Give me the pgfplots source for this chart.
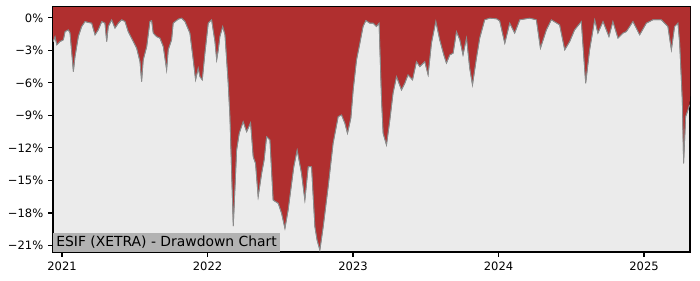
\documentclass[border=0pt]{standalone}
\usepackage{pgfplots}
\pgfplotsset{compat=1.18}
\usepgfplotslibrary{fillbetween}
\usepackage{pgfplotstable}
\usepackage{fontspec}
\setmainfont{DejaVu Sans}
\definecolor{ddred}{RGB}{176,47,47}
\definecolor{bgg}{RGB}{235,235,235}
\definecolor{boxg}{RGB}{178,178,178}
\pgfplotstableread{
x y
2020.940 -2.19
2020.952 -1.73
2020.964 -2.49
2020.986 -2.19
2021.009 -2.03
2021.021 -1.27
2021.043 -1.11
2021.055 -1.39
2021.067 -3.23
2021.078 -4.96
2021.089 -3.60
2021.112 -1.73
2021.135 -0.80
2021.158 -0.34
2021.181 -0.43
2021.204 -0.49
2021.227 -1.57
2021.249 -1.11
2021.273 -0.34
2021.295 -0.49
2021.307 -2.19
2021.318 -0.80
2021.341 -0.18
2021.364 -0.95
2021.387 -0.49
2021.410 -0.18
2021.433 -0.34
2021.455 -1.27
2021.490 -2.19
2021.513 -2.80
2021.536 -4.04
2021.547 -5.88
2021.558 -3.88
2021.582 -2.65
2021.604 -0.34
2021.616 -0.25
2021.627 -1.41
2021.650 -1.73
2021.673 -1.87
2021.696 -2.65
2021.719 -4.80
2021.730 -2.95
2021.753 -2.03
2021.764 -0.49
2021.799 -0.12
2021.822 -0.03
2021.845 -0.34
2021.879 -1.41
2021.902 -3.88
2021.918 -5.72
2021.936 -4.64
2021.948 -5.42
2021.964 -5.72
2021.982 -3.26
2022.005 -0.49
2022.028 -0.18
2022.051 -2.19
2022.063 -3.88
2022.074 -2.95
2022.085 -1.73
2022.104 -0.80
2022.120 -1.57
2022.142 -6.00
2022.154 -9.11
2022.177 -19.21
2022.200 -12.19
2022.218 -10.65
2022.245 -9.58
2022.269 -10.50
2022.296 -9.67
2022.314 -12.81
2022.330 -13.42
2022.348 -16.50
2022.372 -14.34
2022.389 -13.11
2022.406 -10.96
2022.429 -11.27
2022.451 -16.81
2022.486 -17.11
2022.509 -18.03
2022.532 -19.42
2022.554 -17.73
2022.593 -13.73
2022.616 -12.19
2022.646 -14.34
2022.669 -16.81
2022.692 -13.73
2022.715 -13.73
2022.738 -19.27
2022.753 -20.50
2022.772 -21.42
2022.795 -19.27
2022.829 -15.58
2022.863 -11.57
2022.898 -9.11
2022.921 -8.96
2022.944 -9.72
2022.962 -10.65
2022.985 -9.26
2023.001 -6.65
2023.024 -3.88
2023.047 -2.34
2023.069 -0.80
2023.088 -0.25
2023.115 -0.49
2023.138 -0.49
2023.161 -0.80
2023.179 -0.49
2023.196 -7.57
2023.207 -10.65
2023.230 -11.73
2023.253 -9.42
2023.275 -6.95
2023.299 -5.42
2023.333 -6.65
2023.356 -6.03
2023.378 -5.26
2023.409 -5.72
2023.436 -4.04
2023.459 -4.50
2023.493 -4.04
2023.516 -5.26
2023.539 -2.34
2023.569 -0.32
2023.596 -2.03
2023.624 -3.42
2023.642 -4.18
2023.665 -3.42
2023.688 -3.26
2023.711 -1.27
2023.734 -2.03
2023.756 -3.42
2023.780 -1.85
2023.802 -4.64
2023.821 -6.19
2023.848 -3.72
2023.871 -1.85
2023.905 -0.18
2023.940 -0.03
2023.986 -0.09
2024.008 -0.28
2024.043 -2.34
2024.077 -0.49
2024.111 -1.41
2024.146 -0.18
2024.214 -0.03
2024.260 -0.18
2024.288 -2.80
2024.329 -1.11
2024.363 -0.18
2024.420 -0.65
2024.455 -2.95
2024.489 -2.19
2024.523 -1.11
2024.569 -0.34
2024.599 -6.03
2024.626 -2.95
2024.661 -0.18
2024.683 -1.41
2024.718 -0.34
2024.759 -1.73
2024.786 -0.34
2024.821 -1.87
2024.855 -1.41
2024.878 -1.27
2024.924 -0.34
2024.970 -1.57
2025.016 -0.49
2025.061 -0.18
2025.119 -0.18
2025.164 -0.80
2025.188 -2.95
2025.210 -0.80
2025.233 -0.49
2025.245 -2.34
2025.263 -7.57
2025.272 -13.42
2025.286 -9.11
2025.302 -8.50
2025.313 -8.03
}\dd
\begin{document}
\begin{tikzpicture}
\begin{axis}[
  scale only axis, width=458.6pt, height=176.4pt,
  at={(0,0)}, anchor=south west,
  xmin=2020.938, xmax=2025.316, ymin=-21.6, ymax=1.0,
  axis background/.style={fill=bgg},
  axis line style={line width=0.8pt},
  tick align=outside, major tick length=3.5pt,
  tick style={black, line width=0.8pt},
  xtick pos=lower, ytick pos=left,
  xtick={2021,2022,2023,2024,2025},
  xticklabels={2021,2022,2023,2024,2025},
  ytick={-21,-18,-15,-12,-9,-6,-3,0},
  yticklabels={−21\%,−18\%,−15\%,−12\%,−9\%,−6\%,−3\%,0\%},
  ticklabel style={font=\fontsize{8.3}{10}\selectfont},
  /pgf/number format/assume math mode=true,
]
\addplot[name path=top, draw=none] coordinates {(2020.90,2) (2025.35,2)};
\addplot[name path=dd, draw=gray, line width=0.6pt] table[x=x,y=y]{\dd};
\addplot[ddred] fill between[of=dd and top];
\addplot[draw=gray!90, line width=0.5pt] table[x=x,y=y]{\dd};
\node[anchor=south west, fill=boxg, inner xsep=2.2pt, inner ysep=2.4pt,
      font=\fontsize{10}{12}\selectfont] at (rel axis cs:0,0) {ESIF (XETRA) - Drawdown Chart};
\end{axis}
\path (-38.16pt,-20.16pt) rectangle (465.8pt,181.44pt);
\end{tikzpicture}
\end{document}
